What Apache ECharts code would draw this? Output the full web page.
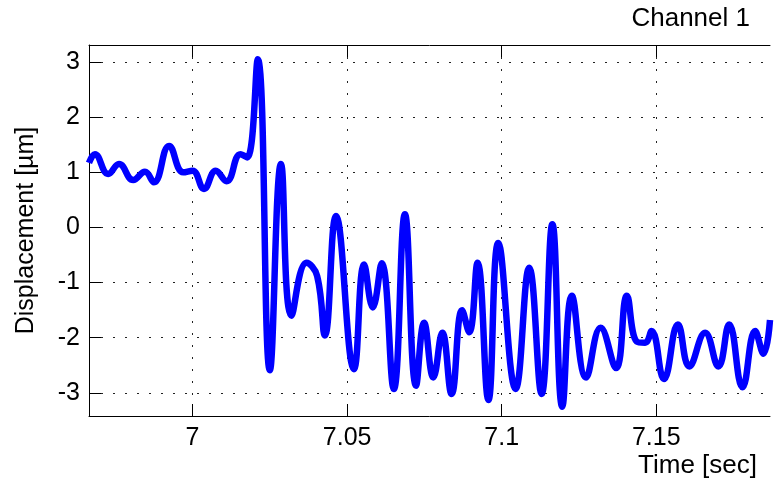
<!DOCTYPE html>
<html>
<head>
  <meta charset="UTF-8">
  <title>Channel 1</title>
  <style>
    html, body { margin: 0; padding: 0; background: #fff; }
    #chart { width: 777px; height: 484px; }
  </style>
</head>
<body>
  <div id="chart"></div>
  <script src="https://cdn.jsdelivr.net/npm/echarts@6/dist/echarts.min.js"></script>
  <script>
    // displacement trace (peaks / troughs)
    const time = [6.9665, 6.9684, 6.9727, 6.9762, 6.9808, 6.9846, 6.9875, 6.9924, 6.9970, 7.0000,
      7.0037, 7.0075, 7.0110, 7.0155, 7.0177, 7.0211, 7.0250, 7.0286, 7.0320, 7.0369,
      7.0403, 7.0428, 7.0464, 7.0522, 7.0555, 7.0583, 7.0612, 7.0651, 7.0687, 7.0723,
      7.0749, 7.0779, 7.0808, 7.0838, 7.0872, 7.0895, 7.0922, 7.0957, 7.0989, 7.1045,
      7.1089, 7.1129, 7.1164, 7.1196, 7.1227, 7.1273, 7.1320, 7.1370, 7.1405, 7.1437,
      7.1464, 7.1485, 7.1525, 7.1570, 7.1607, 7.1658, 7.1701, 7.1736, 7.1779, 7.1820,
      7.1847, 7.1868];
    const displacement = [1.17, 1.33, 0.97, 1.15, 0.86, 1.01, 0.82, 1.48, 1.00, 1.03,
      0.70, 1.03, 0.84, 1.33, 1.27, 3.05, -2.59, 1.15, -1.60, -0.64,
      -0.88, -1.96, 0.21, -2.57, -0.67, -1.45, -0.65, -2.93, 0.24, -2.87,
      -1.73, -2.72, -1.91, -3.02, -1.50, -1.90, -0.64, -3.13, -0.28, -2.93,
      -0.73, -3.02, 0.06, -3.25, -1.24, -2.72, -1.82, -2.55, -1.24, -2.07,
      -2.09, -1.88, -2.75, -1.76, -2.52, -1.91, -2.52, -1.76, -2.90, -1.88,
      -2.29, -1.68];
    const xTicks = [7, 7.05, 7.1, 7.15];
    const yTicks = [-3, -2, -1, 0, 1, 2, 3];

    const font = 'Liberation Sans, Arial, sans-serif';
    const gridLine = { show: true, lineStyle: { color: '#222', width: 1, type: [2, 10] } };

    const chart = echarts.init(document.getElementById('chart'));
    chart.setOption({
      animation: false,
      backgroundColor: '#fff',
      grid: { left: 89, right: 7, top: 45, bottom: 68 },
      xAxis: [{
        type: 'value',
        min: 6.9665,
        max: 7.1868,
        axisLine: { show: true, onZero: false, lineStyle: { color: '#000', width: 1 } },
        axisTick: { inside: true, length: 12, customValues: xTicks, lineStyle: { color: '#000' } },
        axisLabel: {
          customValues: xTicks, margin: 10, color: '#000', fontSize: 25, fontFamily: font,
          formatter: v => String(+v.toFixed(2))
        },
        splitLine: gridLine
      }, {
        type: 'value',
        position: 'top',
        min: 6.9665,
        max: 7.1868,
        axisLine: { show: true, onZero: false, lineStyle: { color: '#000', width: 1 } },
        axisTick: { inside: true, length: 12, customValues: xTicks, lineStyle: { color: '#000' } },
        axisLabel: { show: false },
        splitLine: { show: false }
      }],
      yAxis: {
        type: 'value',
        min: -3.42,
        max: 3.31,
        name: 'Displacement [µm]',
        nameLocation: 'middle',
        nameGap: 50,
        nameTextStyle: { color: '#000', fontSize: 25, fontFamily: font },
        axisLine: { show: true, onZero: false, lineStyle: { color: '#000', width: 1 } },
        axisTick: { inside: true, length: 12, customValues: yTicks, lineStyle: { color: '#000' } },
        axisLabel: { customValues: yTicks, margin: 9, color: '#000', fontSize: 25, fontFamily: font },
        splitLine: gridLine
      },
      graphic: [{
        type: 'text',
        right: 27, top: 6,
        style: { text: 'Channel 1', fill: '#000', font: '26px ' + font }
      }, {
        type: 'text',
        right: 20, top: 453,
        style: { text: 'Time [sec]', fill: '#000', font: '26px ' + font }
      }],
      series: [{
        type: 'line',
        data: time.map((t, i) => [t, displacement[i]]),
        smooth: 0.45,
        symbol: 'none',
        clip: true,
        lineStyle: { color: '#0000ff', width: 6.5 }
      }]
    });
  </script>
</body>
</html>
